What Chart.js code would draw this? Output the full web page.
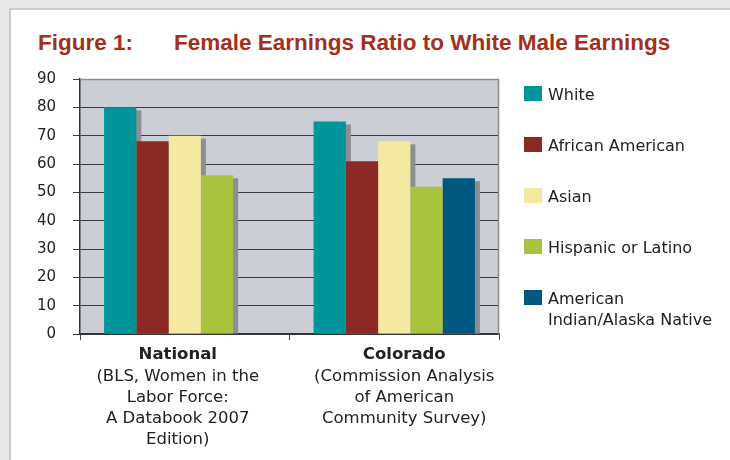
<!DOCTYPE html>
<html lang="en">
<head>
  <meta charset="UTF-8" />
  <title>Female Earnings Ratio to White Male Earnings</title>
  <script src="https://cdn.jsdelivr.net/npm/chart.js"></script>
  <style>
    * { box-sizing: border-box; margin: 0; padding: 0; }

    body {
      width: 730px;
      height: 460px;
      background: #e6e7e9;
      overflow: hidden;
      font-family: 'DejaVu Sans', sans-serif;
      color: #222;
    }

    #panel {
      position: absolute;
      left: 9px;
      top: 8px;
      width: 740px;
      height: 470px;
      background: #fff;
      border: 2px solid #c9cacc;
    }

    .title {
      position: absolute;
      top: 30px;
      font-family: 'Liberation Sans', sans-serif;
      font-weight: bold;
      font-size: 22.5px;
      color: #a3301d;
      white-space: nowrap;
    }

    #chart-wrap {
      position: absolute;
      left: 0;
      top: 0;
      width: 730px;
      height: 460px;
    }

    #legend {
      position: absolute;
      left: 524px;
      top: 84px;
      list-style: none;
    }

    #legend li {
      position: relative;
      height: 51px;
      padding-left: 24px;
      font-size: 16px;
      line-height: 21px;
    }

    #legend li span.box {
      position: absolute;
      left: 0;
      top: 2px;
      width: 18px;
      height: 15px;
    }
  </style>
</head>
<body>
  <div id="panel"></div>
  <div class="title" style="left:38px">Figure 1:</div>
  <div class="title" style="left:174px">Female Earnings Ratio to White Male Earnings</div>

  <div id="chart-wrap">
    <canvas id="earningsChart" width="730" height="460"></canvas>
  </div>
  <ul id="legend"></ul>

  <script>
    const categories = ['National', 'Colorado'];
    const categoryNotes = [
      ['(BLS, Women in the', 'Labor Force:', 'A Databook 2007', 'Edition)'],
      ['(Commission Analysis', 'of American', 'Community Survey)']
    ];

    const seriesNames = ['White', 'African American', 'Asian', 'Hispanic or Latino', 'American Indian/Alaska Native'];
    const legendLines = [['White'], ['African American'], ['Asian'], ['Hispanic or Latino'], ['American', 'Indian/Alaska Native']];
    const seriesColors = ['#00959b', '#8b2a24', '#f5e9a2', '#a8c43e', '#00577f'];

    const white = [80, 75];
    const africanAmerican = [68, 61];
    const asian = [70, 68];
    const hispanic = [56, 52];
    const nativeAmerican = [null, 55];

    const yTicks = [0, 10, 20, 30, 40, 50, 60, 70, 80, 90];

    const seriesValues = [white, africanAmerican, asian, hispanic, nativeAmerican];

    // legend on the right, built from the same arrays
    const legendEl = document.getElementById('legend');
    legendLines.forEach((lines, i) => {
      const li = document.createElement('li');
      li.innerHTML = `<span class="box" style="background:${seriesColors[i]}"></span>` + lines.join('<br>');
      legendEl.appendChild(li);
    });

    // plot background + frame, and the gray drop shadow behind each bar
    const backdropPlugin = {
      id: 'backdrop',
      beforeDraw(chart) {
        const { ctx, chartArea: a } = chart;
        ctx.save();
        ctx.fillStyle = '#cbced5';
        ctx.fillRect(a.left, a.top, a.right - a.left, a.bottom - a.top);
        ctx.restore();
      },
      beforeDatasetsDraw(chart) {
        const { ctx } = chart;
        ctx.save();
        ctx.fillStyle = '#8b8f94';
        chart.data.datasets.forEach((ds, di) => {
          const meta = chart.getDatasetMeta(di);
          meta.data.forEach((bar, i) => {
            if (ds.data[i] == null) return;
            const w = bar.width;
            ctx.fillRect(bar.x - w / 2 + 5, bar.y + 3, w, bar.base - bar.y - 3);
          });
        });
        ctx.restore();
      },
      afterDatasetsDraw(chart) {
        const { ctx, chartArea: a } = chart;
        ctx.save();
        ctx.strokeStyle = '#8a8c90';
        ctx.lineWidth = 1.5;
        ctx.beginPath();
        ctx.moveTo(a.left, a.top + 0.5);
        ctx.lineTo(a.right - 0.5, a.top + 0.5);
        ctx.lineTo(a.right - 0.5, a.bottom);
        ctx.stroke();
        ctx.restore();
      }
    };

    // two-part category labels: bold name, then a note underneath
    const categoryLabelPlugin = {
      id: 'categoryLabels',
      afterDraw(chart) {
        const { ctx } = chart;
        const x = chart.scales.x;
        const top = chart.chartArea.bottom + 12;
        ctx.save();
        ctx.fillStyle = '#222';
        ctx.textAlign = 'center';
        ctx.textBaseline = 'top';
        categories.forEach((name, i) => {
          const cx = x.getPixelForValue(i) + (i === 0 ? -7 : 10);
          ctx.font = 'bold 16.5px "DejaVu Sans", sans-serif';
          ctx.fillText(name, cx, top);
          ctx.font = '16.5px "DejaVu Sans", sans-serif';
          categoryNotes[i].forEach((line, j) => {
            ctx.fillText(line, cx, top + 22 + j * 21);
          });
        });
        ctx.restore();
      }
    };

    const ctx = document.getElementById('earningsChart').getContext('2d');

    new Chart(ctx, {
      type: 'bar',
      data: {
        labels: categories,
        datasets: seriesNames.map((name, i) => ({
          label: name,
          data: seriesValues[i],
          backgroundColor: seriesColors[i],
          borderWidth: 0
        }))
      },
      options: {
        responsive: false,
        animation: false,
        events: [],
        layout: {
          padding: { left: 0, top: 79, right: 231, bottom: 120 }
        },
        categoryPercentage: 0.77,
        barPercentage: 1.0,
        plugins: {
          legend: { display: false },
          tooltip: { enabled: false }
        },
        scales: {
          x: {
            grid: {
              offset: true,
              drawOnChartArea: false,
              drawTicks: true,
              tickLength: 6,
              color: '#444'
            },
            border: { display: true, color: '#333', width: 1.5 },
            ticks: { display: false },
            afterFit(scale) { scale.height = 6; }
          },
          y: {
            min: 0,
            max: 90,
            afterBuildTicks(scale) {
              scale.ticks = yTicks.map(v => ({ value: v }));
            },
            grid: {
              color: '#3a3a3a',
              lineWidth: 1,
              tickLength: 7
            },
            border: { display: true, color: '#333', width: 1.5 },
            ticks: {
              color: '#222',
              padding: 17,
              font: { family: 'DejaVu Sans', size: 15 }
            },
            afterFit(scale) { scale.width = 80; }
          }
        }
      },
      plugins: [backdropPlugin, categoryLabelPlugin]
    });
  </script>
</body>
</html>
